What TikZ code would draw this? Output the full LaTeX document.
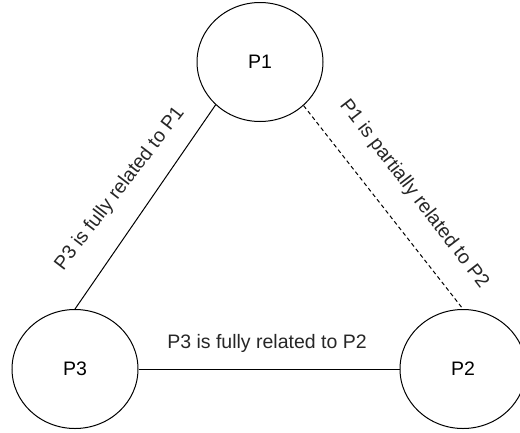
\documentclass[tikz,border=0pt]{standalone}
\usepackage{fontspec}
\setmainfont{Liberation Sans}
\usetikzlibrary{shapes.geometric}
\begin{document}
\begin{tikzpicture}[x=1pt,y=-1pt,
  proc/.style={ellipse,draw=black,line width=1pt,minimum width=126pt,minimum height=119pt,inner sep=0pt,font=\fontsize{19.5}{23}\selectfont},
  rel/.style={draw=black,line width=1pt},
  partial/.style={rel,dash pattern=on 4pt off 3pt},
  lbl/.style={inner sep=0pt,font=\fontsize{19.5}{23}\selectfont,text=black!85}]
\useasboundingbox (0,0) rectangle (520,432);
% processes
\node[proc] (P1) at (260,62) {P1};
\node[proc] (P3) at (75,369) {P3};
\node[proc] (P2) at (463,369) {P2};
% relations
\draw[rel] (P3.north) -- (P1.224);
\draw[partial] (P1.315) -- (P2.north);
\draw[rel] (P3.east) -- (P2.west);
% relation labels
\node[lbl,rotate=52.5] (l31) at (120,189) {P3 is fully related to P1};
\node[lbl,rotate=-52.5] (l12) at (414,194) {P1 is partially related to P2};
\node[lbl,anchor=base] (l32) at (267,348) {P3 is fully related to P2};
\end{tikzpicture}
\end{document}
